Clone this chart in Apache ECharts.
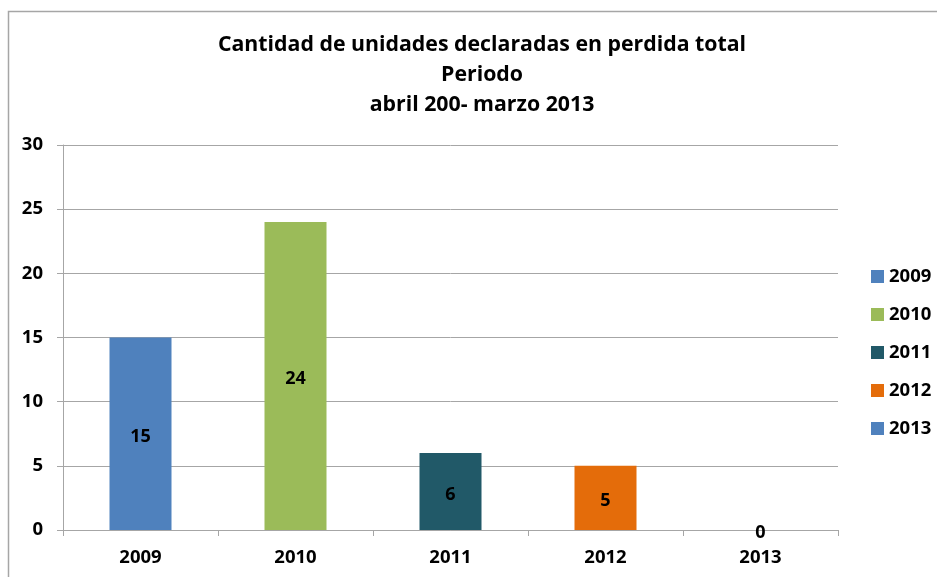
<!DOCTYPE html>
<html><head><meta charset="utf-8">
<script src="https://cdn.jsdelivr.net/npm/echarts@6/dist/echarts.min.js"></script>
<style>html,body{margin:0;padding:0;background:#fff}#c{width:937px;height:577px}</style>
</head><body><div id="c"></div>
<script>
const categories = ['2009','2010','2011','2012','2013'];
const values = [15, 24, 6, 5, 0];
const colors = ['#4F81BD','#9BBB59','#215968','#E46C0A','#4F81BD'];
const yTicks = [0, 5, 10, 15, 20, 25, 30];
const titleText = 'Cantidad de unidades declaradas en perdida total\nPeriodo\nabril 200- marzo 2013';

const FONT = '"Open Sans", Lato, sans-serif';
const chart = echarts.init(document.getElementById('c'), null, {renderer:'canvas'});
const series = categories.map((name, i) => ({
  name: name,
  type: 'bar',
  stack: 'all',
  barWidth: '40%',
  data: values.map((v, j) => j === i ? v : '-'),
  itemStyle: { color: colors[i] },
  label: { show: true, position: 'inside', offset: [0, 3], color: '#000', fontFamily: FONT, fontWeight: 'bold', fontSize: 18 },
  emphasis: { disabled: true }
}));
chart.setOption({
  animation: false,
  backgroundColor: '#fff',
  graphic: [{ type: 'rect', shape: { x: 8.5, y: 11.5, width: 1000, height: 1000 }, style: { fill: 'none', stroke: '#A6A6A6', lineWidth: 1.5 }, silent: true }],
  title: {
    text: titleText, left: 477, top: 25, textAlign: 'center',
    textStyle: { fontFamily: FONT, fontWeight: 'bold', fontSize: 21.3, lineHeight: 30, color: '#000' }
  },
  legend: {
    orient: 'vertical', left: 866, top: 262, itemWidth: 13, itemHeight: 13, itemGap: 19,
    icon: 'rect', data: categories,
    textStyle: { fontFamily: FONT, fontWeight: 'bold', fontSize: 18.5, color: '#000' }
  },
  grid: { left: 63, right: 99, top: 145, bottom: 47, containLabel: false },
  xAxis: {
    type: 'category', data: categories,
    axisLine: { lineStyle: { color: '#A6A6A6', width: 1 } },
    axisTick: { show: true, length: 6, lineStyle: { color: '#A6A6A6' } },
    axisLabel: { fontFamily: FONT, fontWeight: 'bold', fontSize: 18.5, color: '#000', margin: 18 }
  },
  yAxis: {
    type: 'value', min: yTicks[0], max: yTicks[yTicks.length-1], interval: 5,
    axisLine: { show: true, lineStyle: { color: '#A6A6A6', width: 1 } },
    axisTick: { show: true, length: 6, lineStyle: { color: '#A6A6A6' } },
    splitLine: { lineStyle: { color: '#A6A6A6', width: 1 } },
    axisLabel: { fontFamily: FONT, fontWeight: 'bold', fontSize: 18.5, color: '#000', margin: 20 }
  },
  series: series
});
</script></body></html>
